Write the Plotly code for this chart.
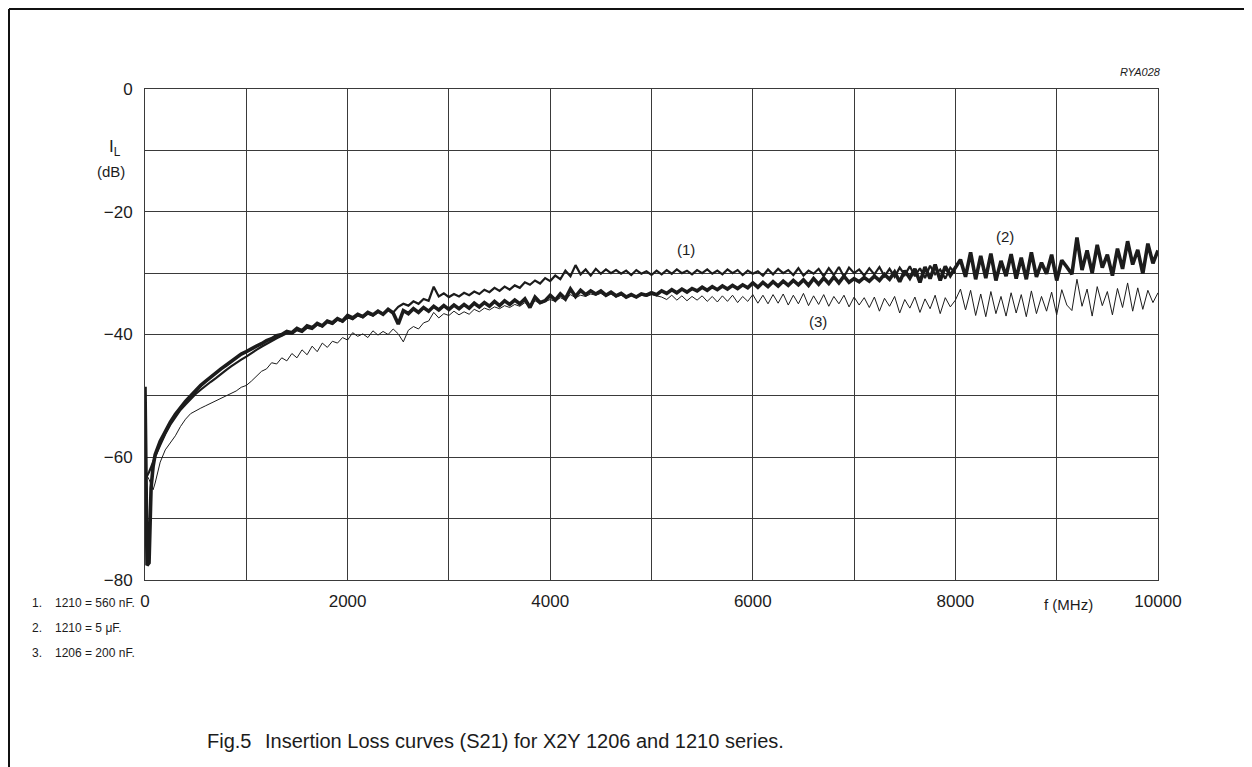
import plotly.graph_objects as go

# ---------------- data ----------------
FREQ_LOW = [0, 20, 40, 60, 80, 100]
FREQ_MAIN = list(range(150, 10001, 50))
FREQ = FREQ_LOW + FREQ_MAIN  # MHz

# (1) 1210 = 560 nF  (measured up to 8000 MHz)
S1 = [
    -63.7, -63.1, -62.4, -61.6, -60.7, -59.9,
    -58.0, -56.2, -54.7, -53.4, -52.3, -51.4, -50.5, -49.7, -49.0, -48.3,
    -47.7, -47.1, -46.4, -45.8, -45.2, -44.6, -44.1, -43.6, -43.0, -42.5,
    -42.0, -41.5, -41.0, -40.6, -40.2, -39.8, -39.9, -39.3, -39.6, -38.9,
    -39.1, -38.4, -38.7, -38.0, -38.3, -37.6, -37.9, -37.2, -37.5, -36.9,
    -37.2, -36.6, -36.9, -36.3, -36.6, -36.0, -36.4, -35.5, -35.0, -35.3,
    -34.6, -35.0, -34.2, -34.5, -32.2, -33.8, -33.3, -33.9, -33.4, -33.8,
    -33.2, -33.6, -33.0, -33.4, -32.7, -33.1, -32.4, -32.9, -32.2, -32.7,
    -32.0, -32.4, -31.5, -31.9, -31.2, -31.7, -30.8, -31.3, -30.4, -31.0,
    -29.6, -30.5, -28.7, -30.2, -29.4, -30.4, -29.3, -30.1, -29.4, -30.0,
    -29.5, -30.1, -29.6, -30.3, -29.5, -30.1, -29.7, -30.3, -29.6, -30.2,
    -29.5, -30.1, -29.4, -30.0, -29.6, -30.2, -29.5, -30.0, -29.4, -30.1,
    -29.6, -30.2, -29.4, -30.0, -29.5, -30.3, -29.6, -30.1, -29.7, -30.4,
    -29.4, -30.2, -29.3, -30.0, -29.5, -30.3, -29.2, -30.4, -29.6, -30.1,
    -29.3, -30.5, -29.2, -30.3, -29.0, -30.6, -29.1, -30.0, -29.4, -30.4,
    -29.2, -30.2, -29.0, -30.5, -29.3, -30.6, -29.1, -30.3, -28.9, -30.5,
    -29.2, -30.8, -28.8, -30.2, -29.4, -30.9, -29.1, -30.0,
]

# (2) 1210 = 5 uF
S2 = [
    -48.5, -77.6, -77.2, -65.0, -61.5, -59.6,
    -57.4, -55.8, -54.3, -53.0, -51.9, -50.9, -50.0, -49.1, -48.3, -47.6,
    -46.9, -46.3, -45.6, -45.0, -44.4, -43.8, -43.2, -42.8, -42.3, -41.9,
    -41.5, -41.0, -40.7, -40.2, -40.0, -39.5, -39.7, -39.0, -39.4, -38.6,
    -38.9, -38.2, -38.6, -37.8, -38.1, -37.4, -37.8, -36.9, -37.3, -36.7,
    -37.1, -36.4, -36.8, -36.2, -36.7, -35.9, -36.5, -38.3, -36.1, -36.6,
    -35.8, -36.4, -35.6, -36.2, -35.4, -36.0, -35.3, -35.9, -35.2, -35.8,
    -35.1, -35.7, -34.9, -35.5, -34.8, -35.4, -34.6, -35.3, -34.5, -35.1,
    -34.4, -35.0, -34.2, -35.6, -33.9, -34.8, -34.5, -33.6, -34.4, -33.4,
    -34.2, -32.6, -33.8, -32.8, -33.5, -32.9, -33.4, -32.9, -33.6, -33.1,
    -33.7, -33.3, -33.9, -33.5, -33.9, -33.4, -33.6, -33.2, -33.5, -32.9,
    -33.3, -32.7, -33.2, -32.6, -33.1, -32.5, -32.9, -32.3, -32.8, -32.2,
    -32.7, -32.1, -32.6, -32.0, -32.5, -31.9, -32.4, -31.6, -32.3, -31.5,
    -32.2, -31.4, -32.1, -31.3, -32.0, -31.2, -31.9, -31.1, -32.0, -30.9,
    -31.8, -30.8, -31.7, -30.6, -31.6, -30.5, -31.5, -30.9, -31.4, -30.7,
    -31.3, -30.5, -31.2, -30.2, -31.0, -29.8, -31.4, -29.6, -30.8, -29.3,
    -31.5, -29.0, -30.9, -28.6, -31.2, -28.9, -30.4, -29.2, -27.8, -30.6,
    -26.6, -31.0, -27.2, -30.8, -26.8, -31.2, -28.0, -30.5, -26.9, -30.9,
    -27.5, -31.0, -26.6, -30.6, -28.3, -30.1, -27.0, -31.2, -27.9, -29.0,
    -30.2, -24.2, -29.5, -26.3, -30.0, -25.4, -29.1, -27.0, -30.4, -26.0,
    -29.3, -24.8, -28.6, -26.2, -30.1, -25.2, -28.4, -26.3,
]

# (3) 1206 = 200 nF
S3 = [
    -63.5, -63.0, -63.6, -64.6, -65.3, -64.2,
    -60.8, -58.8, -57.6, -56.5, -55.0, -53.8, -52.9, -52.4, -52.0, -51.6,
    -51.2, -50.8, -50.4, -50.1, -49.7, -49.2, -48.6, -48.3, -47.6, -46.8,
    -46.0, -45.6, -44.6, -44.8, -43.8, -44.3, -43.1, -43.8, -42.5, -43.3,
    -41.9, -42.8, -41.4, -42.1, -41.1, -41.4, -40.5, -40.9, -39.7, -40.3,
    -39.9, -40.5, -39.4, -40.1, -39.5, -40.0, -39.1, -39.9, -41.2, -39.3,
    -38.7, -39.1, -38.1, -37.8, -36.4, -37.3, -36.6, -36.9, -36.2, -36.8,
    -36.3, -36.7, -35.9, -36.3, -35.7, -36.0, -35.5, -35.8, -35.3, -35.6,
    -35.1, -35.4, -34.8, -35.5, -34.5, -35.0, -34.7, -34.3, -34.6, -34.0,
    -34.4, -33.5, -34.0, -33.6, -33.8, -33.4, -33.6, -33.3, -33.8, -33.4,
    -33.9, -33.6, -34.0, -33.7, -34.0, -33.6, -33.8, -33.5, -33.7, -33.9,
    -34.3, -33.6, -34.4, -33.7, -34.5, -33.8, -34.4, -33.7, -34.6, -33.8,
    -34.7, -33.7, -34.6, -33.6, -34.8, -33.8, -34.6, -33.5, -34.9, -33.6,
    -35.0, -33.5, -34.9, -33.4, -35.2, -33.6, -35.0, -33.3, -35.3, -33.7,
    -35.1, -33.5, -35.4, -33.8, -35.0, -33.6, -35.5, -33.9, -35.2, -34.0,
    -35.6, -33.9, -36.2, -34.1, -35.4, -33.8, -36.5, -34.3, -35.7, -33.9,
    -36.4, -34.2, -35.8, -33.6, -36.6, -34.0, -35.5, -34.4, -32.6, -36.0,
    -32.8, -36.9, -33.4, -37.1, -33.0, -36.6, -33.8, -37.0, -33.2, -36.5,
    -33.5, -37.1, -32.9, -36.6, -33.8, -36.2, -33.1, -36.8, -32.7, -35.2,
    -36.1, -31.0, -35.4, -32.6, -37.0, -32.2, -35.3, -33.0, -36.8, -32.5,
    -35.6, -31.6, -36.2, -32.4, -35.9, -32.8, -34.8, -33.2,
]

Y_TICKS = [0, -20, -40, -60, -80]
X_TICKS = [0, 2000, 4000, 6000, 8000, 10000]
X_TICK_TEXT = ["0", "2000", "4000", "6000", "8000", "10000"]

CURVE_LABELS = [("(1)", 5340, -26.1), ("(2)", 8490, -24.0), ("(3)", 6640, -37.8)]
NOTES = [("1.", "1210 = 560 nF."), ("2.", "1210 = 5 μF."), ("3.", "1206 = 200 nF.")]
CAPTION_NUM = "Fig.5"
CAPTION = "Insertion Loss curves (S21) for X2Y 1206 and 1210 series."

# ---------------- figure ----------------
FONT = "Liberation Sans, Arial, sans-serif"
INK = "#1c1c1c"
OFF = 8                      # page body margin: the figure sits at (8, 8) on screen
SW, SH = 1252, 767           # screen size
W, H = SW - OFF, SH - OFF    # figure size
# plot area in screen pixels: x 145..1158, y 89..580
PL, PR, PT, PB = 145, 1158, 89, 580
ML, MT = PL - OFF, PT - OFF
MR, MB = W - (PR - OFF), H - (PB - OFF)
PW, PH = PR - PL, PB - PT


def px_x(p):   # screen x -> paper x
    return (p - PL) / PW


def px_y(p):   # screen y -> paper y
    return (PB - p) / PH


fig = go.Figure()
fig.add_trace(go.Scatter(x=FREQ[:len(S3)], y=S3, mode="lines",
                         line=dict(color=INK, width=1.0), name="(3)"))
fig.add_trace(go.Scatter(x=FREQ[:len(S1)], y=S1, mode="lines",
                         line=dict(color=INK, width=2.2), name="(1)"))
fig.add_trace(go.Scatter(x=FREQ[:len(S2)], y=S2, mode="lines",
                         line=dict(color=INK, width=3.6), name="(2)"))

grid = "#3a3a3a"
fig.update_xaxes(range=[0, 10000], tickvals=X_TICKS, ticktext=X_TICK_TEXT,
                 showgrid=True, gridcolor=grid, gridwidth=1,
                 minor=dict(dtick=1000, showgrid=True, gridcolor=grid, gridwidth=1),
                 showline=True, linecolor=grid, linewidth=1, mirror=True,
                 zeroline=False, ticks="", ticklen=0, ticklabelstandoff=6,
                 tickfont=dict(family=FONT, size=17, color=INK))
fig.update_yaxes(range=[-80, 0], tickvals=Y_TICKS,
                 showgrid=True, gridcolor=grid, gridwidth=1,
                 minor=dict(dtick=10, showgrid=True, gridcolor=grid, gridwidth=1),
                 showline=True, linecolor=grid, linewidth=1, mirror=True,
                 zeroline=False, ticks="", ticklen=0, ticklabelstandoff=8,
                 tickfont=dict(family=FONT, size=17, color=INK))


def note(x, y, text, size, xanchor="center", xref="paper"):
    return dict(x=x, y=y, xref=xref, yref="paper", text=text, showarrow=False,
                xanchor=xanchor, yanchor="middle",
                font=dict(family=FONT, size=size, color=INK))


ann = []
for txt, fx, fy in CURVE_LABELS:
    ann.append(dict(x=fx, y=fy, xref="x", yref="y", text=txt, showarrow=False,
                    xanchor="center", yanchor="middle",
                    font=dict(family=FONT, size=15, color=INK)))
# axis titles
ann.append(note(px_x(115), px_y(148), "I<sub>L</sub>", 17))
ann.append(note(px_x(111), px_y(171), "(dB)", 15))
ann.append(note(9120, px_y(604), "f (MHz)", 15, xref="x"))
ann.append(note(px_x(1163), px_y(72), "<i>RYA028</i>", 11, xanchor="right"))
for i, (num, txt) in enumerate(NOTES):
    yy = px_y(603 + 25 * i)
    ann.append(note(px_x(30), yy, num, 12, xanchor="left"))
    ann.append(note(px_x(53), yy, txt, 12, xanchor="left"))
ann.append(note(px_x(205), px_y(741), CAPTION_NUM, 20, xanchor="left"))
ann.append(note(px_x(263), px_y(741), CAPTION, 20, xanchor="left"))

# page frame (top and left rules), drawn at the figure's top-left edge
fx0 = px_x(OFF + 1)
fy0 = px_y(OFF + 1)
shapes = [
    dict(type="line", xref="paper", yref="paper", x0=fx0, x1=px_x(SW + 5),
         y0=fy0, y1=fy0, line=dict(color="#111", width=2)),
    dict(type="line", xref="paper", yref="paper", x0=fx0, x1=fx0,
         y0=fy0, y1=px_y(SH + 5), line=dict(color="#111", width=2)),
]

fig.update_layout(width=W, height=H, autosize=False,
                  margin=dict(l=ML, r=MR, t=MT, b=MB),
                  paper_bgcolor="white", plot_bgcolor="white",
                  showlegend=False, annotations=ann, shapes=shapes,
                  font=dict(family=FONT, color=INK))

fig.write_html("out.html")
